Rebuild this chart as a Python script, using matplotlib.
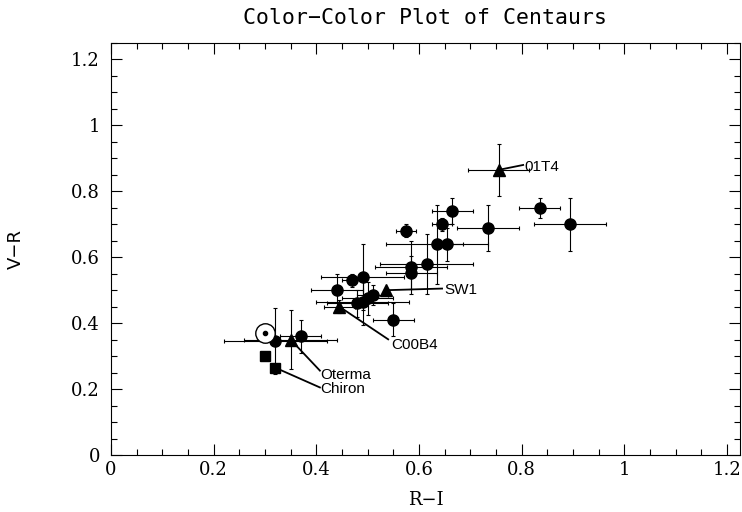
import matplotlib.pyplot as plt
from matplotlib.ticker import MultipleLocator

# filled circles: R-I, V-R and their errors
circ_ri = [0.32, 0.37, 0.44, 0.47, 0.49, 0.48, 0.49, 0.50, 0.51, 0.55, 0.585, 0.585,
           0.615, 0.635, 0.655, 0.575, 0.645, 0.665, 0.735, 0.835, 0.895]
circ_vr = [0.345, 0.36, 0.50, 0.53, 0.54, 0.46, 0.465, 0.475, 0.485, 0.41, 0.57, 0.553,
           0.58, 0.64, 0.64, 0.68, 0.70, 0.74, 0.69, 0.75, 0.70]
circ_xerr = [0.10, 0.04, 0.05, 0.02, 0.08, 0.06, 0.09, 0.05, 0.03, 0.04, 0.07, 0.05,
             0.09, 0.10, 0.03, 0.02, 0.02, 0.04, 0.06, 0.04, 0.07]
circ_yerr = [0.10, 0.05, 0.05, 0.02, 0.10, 0.04, 0.07, 0.05, 0.03, 0.05, 0.08, 0.05,
             0.09, 0.12, 0.05, 0.02, 0.02, 0.04, 0.07, 0.03, 0.08]

# named objects (triangles)
tri_names = ["Oterma", "C00B4", "SW1", "01T4"]
tri_ri = [0.35, 0.445, 0.535, 0.755]
tri_vr = [0.35, 0.45, 0.50, 0.865]
tri_xerr = [0.09, 0.03, 0.0, 0.06]
tri_yerr = [0.09, 0.02, 0.0, 0.08]

# Chiron (squares)
sq_ri = [0.30, 0.32]
sq_vr = [0.30, 0.265]

# the Sun
sun_ri, sun_vr = 0.30, 0.37

# label anchors: (name, from point, line end, text pos)
labels = [
    ("01T4", (0.755, 0.865), (0.803, 0.88), (0.805, 0.875)),
    ("SW1", (0.535, 0.50), (0.645, 0.505), (0.649, 0.50)),
    ("C00B4", (0.445, 0.45), (0.54, 0.351), (0.546, 0.335)),
    ("Oterma", (0.35, 0.35), (0.407, 0.256), (0.407, 0.244)),
    ("Chiron", (0.32, 0.265), (0.407, 0.205), (0.407, 0.199)),
]

fig = plt.figure(figsize=(7.42, 5.12), dpi=100)
ax = fig.add_axes([0.1496, 0.1113, 0.8474, 0.8047])

ax.errorbar(circ_ri, circ_vr, xerr=circ_xerr, yerr=circ_yerr, fmt="o", color="black",
            ms=8, elinewidth=0.8, capsize=1.5, capthick=0.8, zorder=3)
ax.errorbar(tri_ri, tri_vr, xerr=tri_xerr, yerr=tri_yerr, fmt="^", color="black",
            ms=9, elinewidth=0.8, capsize=1.5, capthick=0.8, zorder=3)
ax.plot(sq_ri, sq_vr, "s", color="black", ms=7, zorder=3)
ax.plot(sun_ri, sun_vr, "o", mfc="white", mec="black", ms=14, mew=1.0, zorder=4)
ax.plot(sun_ri, sun_vr, "o", color="black", ms=3, zorder=5)

for name, p0, p1, pt in labels:
    ax.plot([p0[0], p1[0]], [p0[1], p1[1]], color="black", lw=1.3, zorder=2)
    ax.text(pt[0], pt[1], name, fontsize=11, family="Liberation Sans",
            ha="left", va="center")

ax.set_xlim(0, 1.225)
ax.set_ylim(0, 1.25)
ax.xaxis.set_minor_locator(MultipleLocator(0.05))
ax.yaxis.set_minor_locator(MultipleLocator(0.05))
ax.set_xticks([0, 0.2, 0.4, 0.6, 0.8, 1.0, 1.2], ["0", "0.2", "0.4", "0.6", "0.8", "1", "1.2"])
ax.set_yticks([0, 0.2, 0.4, 0.6, 0.8, 1.0, 1.2], ["0", "0.2", "0.4", "0.6", "0.8", "1", "1.2"])
ax.tick_params(which="both", direction="in", top=True, right=True, width=0.8,
               labelsize=13)
ax.tick_params(axis="x", pad=4)
ax.tick_params(axis="y", pad=8)
ax.tick_params(which="major", length=8)
ax.tick_params(which="minor", length=4)
for lab in ax.get_xticklabels() + ax.get_yticklabels():
    lab.set_family("DejaVu Serif")
for sp in ax.spines.values():
    sp.set_linewidth(0.8)

ax.set_xlabel("R\u2212I", fontsize=13, family="DejaVu Serif", labelpad=9)
ax.set_ylabel("V\u2212R", fontsize=13, family="DejaVu Sans", labelpad=33)
ax.set_title("Color\u2212Color Plot of Centaurs", fontsize=15.5, family="DejaVu Sans Mono", pad=14)

fig.savefig("out.png", dpi=100)
